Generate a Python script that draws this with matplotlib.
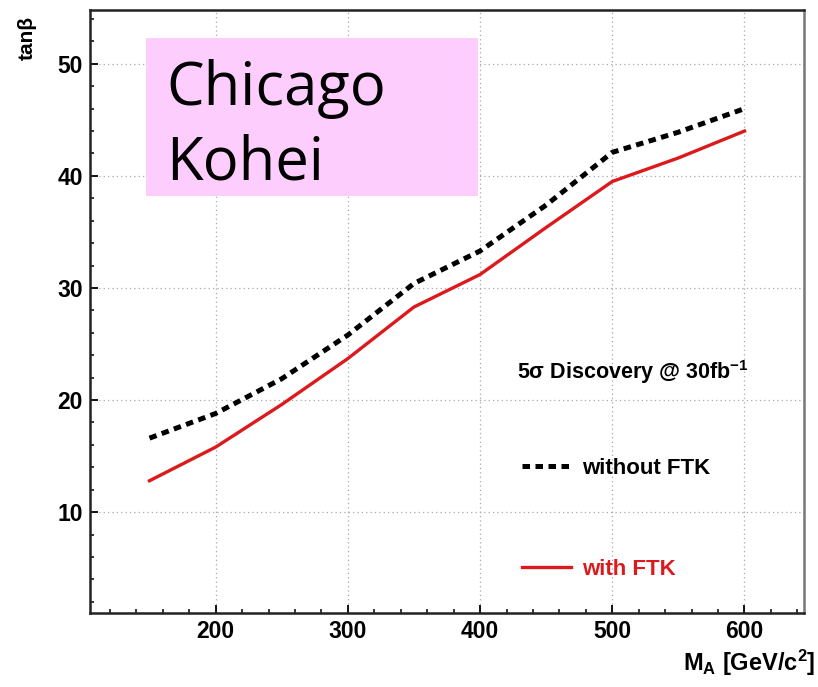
import matplotlib
matplotlib.use("Agg")
import matplotlib.pyplot as plt
from matplotlib.patches import Rectangle
from matplotlib.lines import Line2D
from matplotlib.ticker import MultipleLocator

# data
mass = [150, 200, 250, 300, 350, 400, 450, 500, 550, 600]
tanb_without_ftk = [16.6, 18.8, 21.9, 25.8, 30.4, 33.3, 37.4, 42.1, 43.9, 46.0]
tanb_with_ftk = [12.8, 15.8, 19.6, 23.7, 28.3, 31.2, 35.4, 39.5, 41.6, 44.0]

x_ticks = [200, 300, 400, 500, 600]
y_ticks = [10, 20, 30, 40, 50]

RED = "#dc1a1e"
FONT = ["Liberation Sans", "DejaVu Sans"]
DASH = (1.5, 1.1)

plt.rcParams["font.family"] = FONT
plt.rcParams["font.weight"] = "bold"
plt.rcParams["mathtext.fontset"] = "custom"
plt.rcParams["mathtext.rm"] = "Liberation Sans:bold"
plt.rcParams["mathtext.bf"] = "Liberation Sans:bold"
plt.rcParams["mathtext.it"] = "Liberation Sans:bold"
plt.rcParams["mathtext.default"] = "bf"

fig = plt.figure(figsize=(8.18, 6.87), dpi=100)
ax = fig.add_axes([90 / 818, 1 - 613 / 687, (804 - 90) / 818, (613 - 10) / 687])

ax.plot(mass, tanb_without_ftk, color="black", lw=3.6, dashes=DASH,
        label="without FTK", zorder=3)
ax.plot(mass, tanb_with_ftk, color=RED, lw=2.4, label="with FTK", zorder=3)

ax.set_xlim(105, 645)
ax.set_ylim(1, 54.8)
ax.set_xticks(x_ticks)
ax.set_yticks(y_ticks)
ax.xaxis.set_minor_locator(MultipleLocator(20))
ax.yaxis.set_minor_locator(MultipleLocator(2))
ax.tick_params(which="major", direction="in", length=5.5, width=1.3, labelsize=16.5, pad=5)
ax.tick_params(which="minor", direction="in", length=3, width=1.1)
for lab in ax.get_xticklabels() + ax.get_yticklabels():
    lab.set_fontweight("bold")

ax.grid(True, which="major", color="#a8a8a8", linestyle=(0, (1, 2.5)), linewidth=0.9)

for side in ["left", "bottom", "top"]:
    ax.spines[side].set_linewidth(1.8)
    ax.spines[side].set_color("#222222")
ax.spines["right"].set_linewidth(1.8)
ax.spines["right"].set_color("#777777")

fig.text(27 / 818, 1 - 38 / 687, "tan\u03b2", rotation=90, ha="center", va="center",
         fontsize=15, fontweight="bold", family=FONT)
fig.text(815 / 818, 1 - 663 / 687, "M$_A$ [GeV/c$^2$]", ha="right", va="center",
         fontsize=17, fontweight="bold")

fig.text(517 / 818, 1 - 372 / 687, "5\u03c3 Discovery @ 30fb$^{-1}$", ha="left",
         va="center", fontsize=15.5, fontweight="bold")

handles = [Line2D([], [], color="black", lw=3.6, dashes=DASH),
           Line2D([], [], color=RED, lw=2.4)]
leg = ax.legend(handles, ["without FTK", "with FTK"], loc="upper left",
                bbox_to_anchor=(502 / 818, 1 - 438 / 687), bbox_transform=fig.transFigure,
                frameon=False, handlelength=2.2, handletextpad=0.5, labelspacing=3.6,
                prop={"size": 16, "weight": "bold"})
leg.get_texts()[1].set_color(RED)

# pink name box
fig.patches.append(Rectangle((146 / 818, 1 - 196 / 687), (478 - 146) / 818, (196 - 38) / 687,
                             transform=fig.transFigure, facecolor="#fdcdfd",
                             edgecolor="none", zorder=5))
fig.text(166 / 818, 1 - 105 / 687, "Chicago", ha="left", va="baseline", fontsize=43,
         family=["Open Sans", "DejaVu Sans"], fontweight="normal", zorder=6)
fig.text(166 / 818, 1 - 180 / 687, "Kohei", ha="left", va="baseline", fontsize=43,
         family=["Open Sans", "DejaVu Sans"], fontweight="normal", zorder=6)

fig.savefig("out.png", dpi=100)
